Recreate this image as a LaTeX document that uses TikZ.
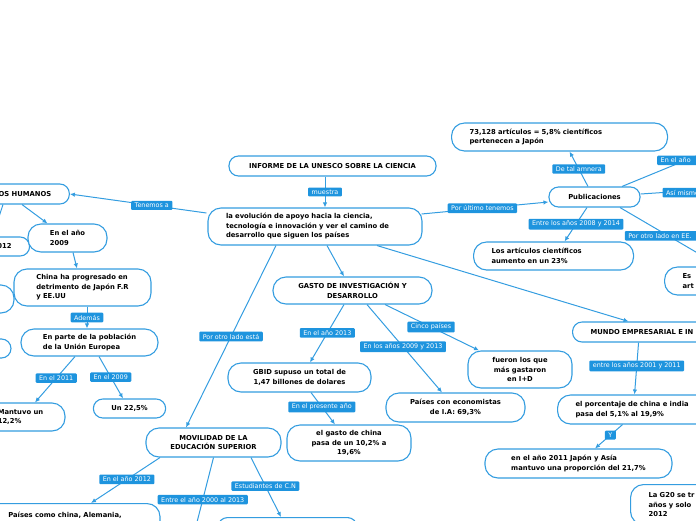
\documentclass[tikz,border=0pt]{standalone}
\usepackage{fontspec}
\setmainfont{DejaVu Sans}
\usetikzlibrary{arrows.meta}
\definecolor{mapline}{RGB}{52,157,224}
\definecolor{tagfill}{RGB}{30,148,222}

\begin{document}
\begin{tikzpicture}[x=1pt, y=-1pt,
		topic/.style={draw=mapline, fill=white, line width=1.1pt, rounded corners=13pt, font=\bfseries\fontsize{6.8}{9.5}\selectfont, inner xsep=18pt, inner ysep=2pt, align=center},
		pill/.style={topic, rounded corners=9.5pt},
		tag/.style={fill=tagfill, text=white, font=\fontsize{6.4}{7.5}\selectfont, inner xsep=3.5pt, inner ysep=2.2pt, rounded corners=1pt},
		link/.style={draw=mapline, line width=1pt, -{Latex[length=5pt,width=4.5pt]}}]
		%%%%% START %%%%%
		\useasboundingbox (0,0) rectangle (696,520);
		\clip (0,0) rectangle (696,520);
		
		\node[pill, minimum width=207pt, minimum height=20pt] (informe) at (332.5,166) {INFORME DE LA UNESCO SOBRE LA CIENCIA};
		\node[topic, align=left, text width=178pt, minimum height=37pt] (evolucion) at (315,226.5) {la evolución de apoyo hacia la ciencia,\\ tecnología e innovación y ver el camino de\\ desarrollo que siguen los países};
		
		\node[pill, minimum width=84pt, minimum height=20pt] (humanos) at (25,194) {OS HUMANOS};
		\node[pill, minimum width=45pt, minimum height=19pt] (anio2012) at (4.5,246.5) {012};
		\node[topic, align=left, minimum width=79pt, minimum height=28pt] (anio2009) at (67.5,238) {En el año\\ 2009};
		\node[topic, align=left, minimum width=137pt, minimum height=37pt] (china) at (82.5,287.5) {China ha progresado en\\ detrimento de Japón F.R\\ y EE.UU};
		\node[topic, minimum width=68pt, minimum height=28pt] (ladoa) at (-20,299) {};
		\node[pill, minimum width=62pt, minimum height=19pt] (ladob) at (-20,348.5) {};
		\node[topic, align=left, minimum width=137pt, minimum height=27pt] (union) at (89.5,342.5) {En parte de la población\\ de la Unión Europea};
		\node[topic, align=left, minimum width=89pt, minimum height=28pt] (mantuvo) at (20.5,417) {Mantuvo un\\ 12,2\%};
		\node[pill, minimum width=71pt, minimum height=19pt] (un225) at (129.5,408.5) {Un 22,5\%};
		
		\node[topic, minimum width=135pt, minimum height=29pt] (movilidad) at (213.5,442.5) {MOVILIDAD DE LA\\ EDUCACIÓN SUPERIOR};
		\node[topic, align=left, anchor=north, minimum width=190pt, minimum height=32pt] (paises) at (65,503) {Países como china, Alemania,\\ \mbox{}};
		\node[pill, anchor=north, minimum width=139pt, minimum height=20pt] (cn) at (287.5,517) {};
		\coordinate (salida2000) at (195,530);
		
		\node[topic, minimum width=159pt, minimum height=27pt] (gasto) at (352.5,290.5) {GASTO DE INVESTIGACIÓN Y\\ DESARROLLO};
		\node[topic, minimum width=143pt, minimum height=29pt] (gbid) at (299.5,377.5) {GBID supuso un total de\\ 1,47 billones de dolares};
		\node[topic, minimum width=124pt, minimum height=36pt] (gastochina) at (349,443) {el gasto de china\\ pasa de un 10,2\% a\\ 19,6\%};
		\node[topic, minimum width=139pt, minimum height=29pt] (economistas) at (455.5,407.5) {Países con economistas\\ de I.A: 69,3\%};
		\node[topic, minimum width=104pt, minimum height=37pt] (fueron) at (520,369.5) {fueron los que\\ más gastaron\\ en I+D};
		
		\node[pill, anchor=west, align=left, text width=130pt, minimum height=20pt] (mundo) at (572,332) {MUNDO EMPRESARIAL E IN};
		\node[topic, anchor=west, align=left, text width=130pt, minimum height=29pt] (porcentaje) at (557,409.5) {el porcentaje de china e india\\ pasa del 5,1\% al 19,9\%};
		\node[topic, align=left, minimum width=187pt, minimum height=29pt] (japon) at (578.5,463.5) {en el año 2011 Japón y Asía\\ mantuvo una proporción del 21,7\%};
		\node[topic, anchor=north west, align=left, text width=70pt, minimum height=40pt] (g20) at (630,484) {La G20 se tr\\ años y solo\\ 2012};
		
		\node[pill, minimum width=91pt, minimum height=20pt] (publicaciones) at (594.5,197) {Publicaciones};
		\node[topic, anchor=west, align=left, text width=180pt, minimum height=28pt] (japon73) at (451,137) {73,128 artículos = 5,8\% científicos\\ pertenecen a Japón};
		\node[topic, anchor=west, align=left, text width=124pt, minimum height=28pt] (aumento) at (473,256) {Los artículos científicos\\ aumento en un 23\%};
		\node[topic, anchor=west, align=left, text width=76pt, minimum height=28pt] (es) at (664,281) {Es\\ art};
		\coordinate (haciaanio) at (740,138);
		\coordinate (haciamismo) at (760,186);
		
		
		\draw[link] ([xshift=-7.5pt]informe.south) -- node[tag]{muestra} ([xshift=10pt]evolucion.north);
		\draw[link] ([xshift=-1pt,yshift=13.5pt]evolucion.west) -- node[tag, pos=.4]{Tenemos a} (humanos.east);
		\draw[link] ([xshift=-3pt]humanos.south) -- ([xshift=-20pt]anio2009.north);
		\draw[link] ([xshift=-22pt]humanos.south) -- ([xshift=-12pt]anio2012.north);
		\draw[link] ([xshift=5.5pt]anio2009.south) -- ([xshift=-5.5pt]china.north);
		\draw[link] ([xshift=4.5pt]china.south) -- node[tag]{Además} ([xshift=-2.5pt]union.north);
		\draw[link] ([xshift=-14.5pt]union.south) -- node[tag, pos=.47]{En el 2011} ([xshift=14.5pt]mantuvo.north);
		\draw[link] ([xshift=9.5pt]union.south) -- node[tag, pos=.49]{En el 2009} ([xshift=-6.5pt]un225.north);
		
		\draw[link] ([xshift=-39pt]evolucion.south) -- node[tag]{Por otro lado está} ([xshift=-27.5pt]movilidad.north);
		\draw[link] ([xshift=-53.5pt]movilidad.south) -- node[tag, pos=.48]{En el año 2012} ([xshift=26pt]paises.north);
		\draw[link] (movilidad.south) -- node[tag, pos=.58]{Entre el año 2000 al 2013} (salida2000);
		\draw[link] ([xshift=37.5pt]movilidad.south) -- node[tag, pos=.48]{Estudiantes de C.N} ([xshift=-6.5pt]cn.north);
		
		\draw[link] ([xshift=12pt]evolucion.south) -- ([xshift=-8.5pt]gasto.north);
		\draw[link] ([xshift=-8.5pt]gasto.south) -- node[tag, pos=.49]{En el año 2013} ([xshift=10.5pt]gbid.north);
		\draw[link] ([xshift=11.5pt]gbid.south) -- node[tag, pos=.45]{En el presente año} ([xshift=-14pt]gastochina.north);
		\draw[link] ([xshift=14.5pt]gasto.south) -- node[tag, pos=.48]{En los años 2009 y 2013} ([xshift=-13.5pt]economistas.north);
		\draw[link] ([xshift=32.5pt]gasto.south) -- node[tag, pos=.49]{Cinco países} ([xshift=-41pt]fueron.north);
		
		\draw[link] ([xshift=62pt]evolucion.south) -- ([xshift=-27pt]mundo.north);
		\draw[link] ([xshift=-17pt]mundo.south) -- node[tag, pos=.45]{entre los años 2001 y 2011} ([xshift=-6pt]porcentaje.north);
		\draw[link] ([xshift=-18pt]porcentaje.south) -- node[tag, pos=.44]{Y} ([xshift=16.5pt]japon.north);
		
		\draw[link] ([xshift=-1pt,yshift=12.5pt]evolucion.east) -- node[tag, pos=.48]{Por último tenemos} ([yshift=-5pt]publicaciones.west);
		\draw[link] ([xshift=-6.5pt]publicaciones.north) -- node[tag]{De tal amnera} ([xshift=10pt]japon73.south);
		\draw[link] ([xshift=-7.5pt]publicaciones.south) -- node[tag, pos=.49]{Entre los años 2008 y 2014} ([xshift=11pt]aumento.north);
		\draw[link] ([xshift=27.5pt]publicaciones.north) -- node[tag, pos=.54, text width=50pt, align=left]{En el año} (haciaanio);
		\draw[link] ([yshift=3pt]publicaciones.east) -- node[tag, pos=.18, anchor=west]{Así mismo} (haciamismo);
		\draw[link] ([xshift=25.5pt]publicaciones.south) -- node[tag, pos=.48, text width=80pt, align=left]{Por otro lado en EE.} (es.north);
		
		%%%%% END %%%%%
	\end{tikzpicture}
\end{document}
